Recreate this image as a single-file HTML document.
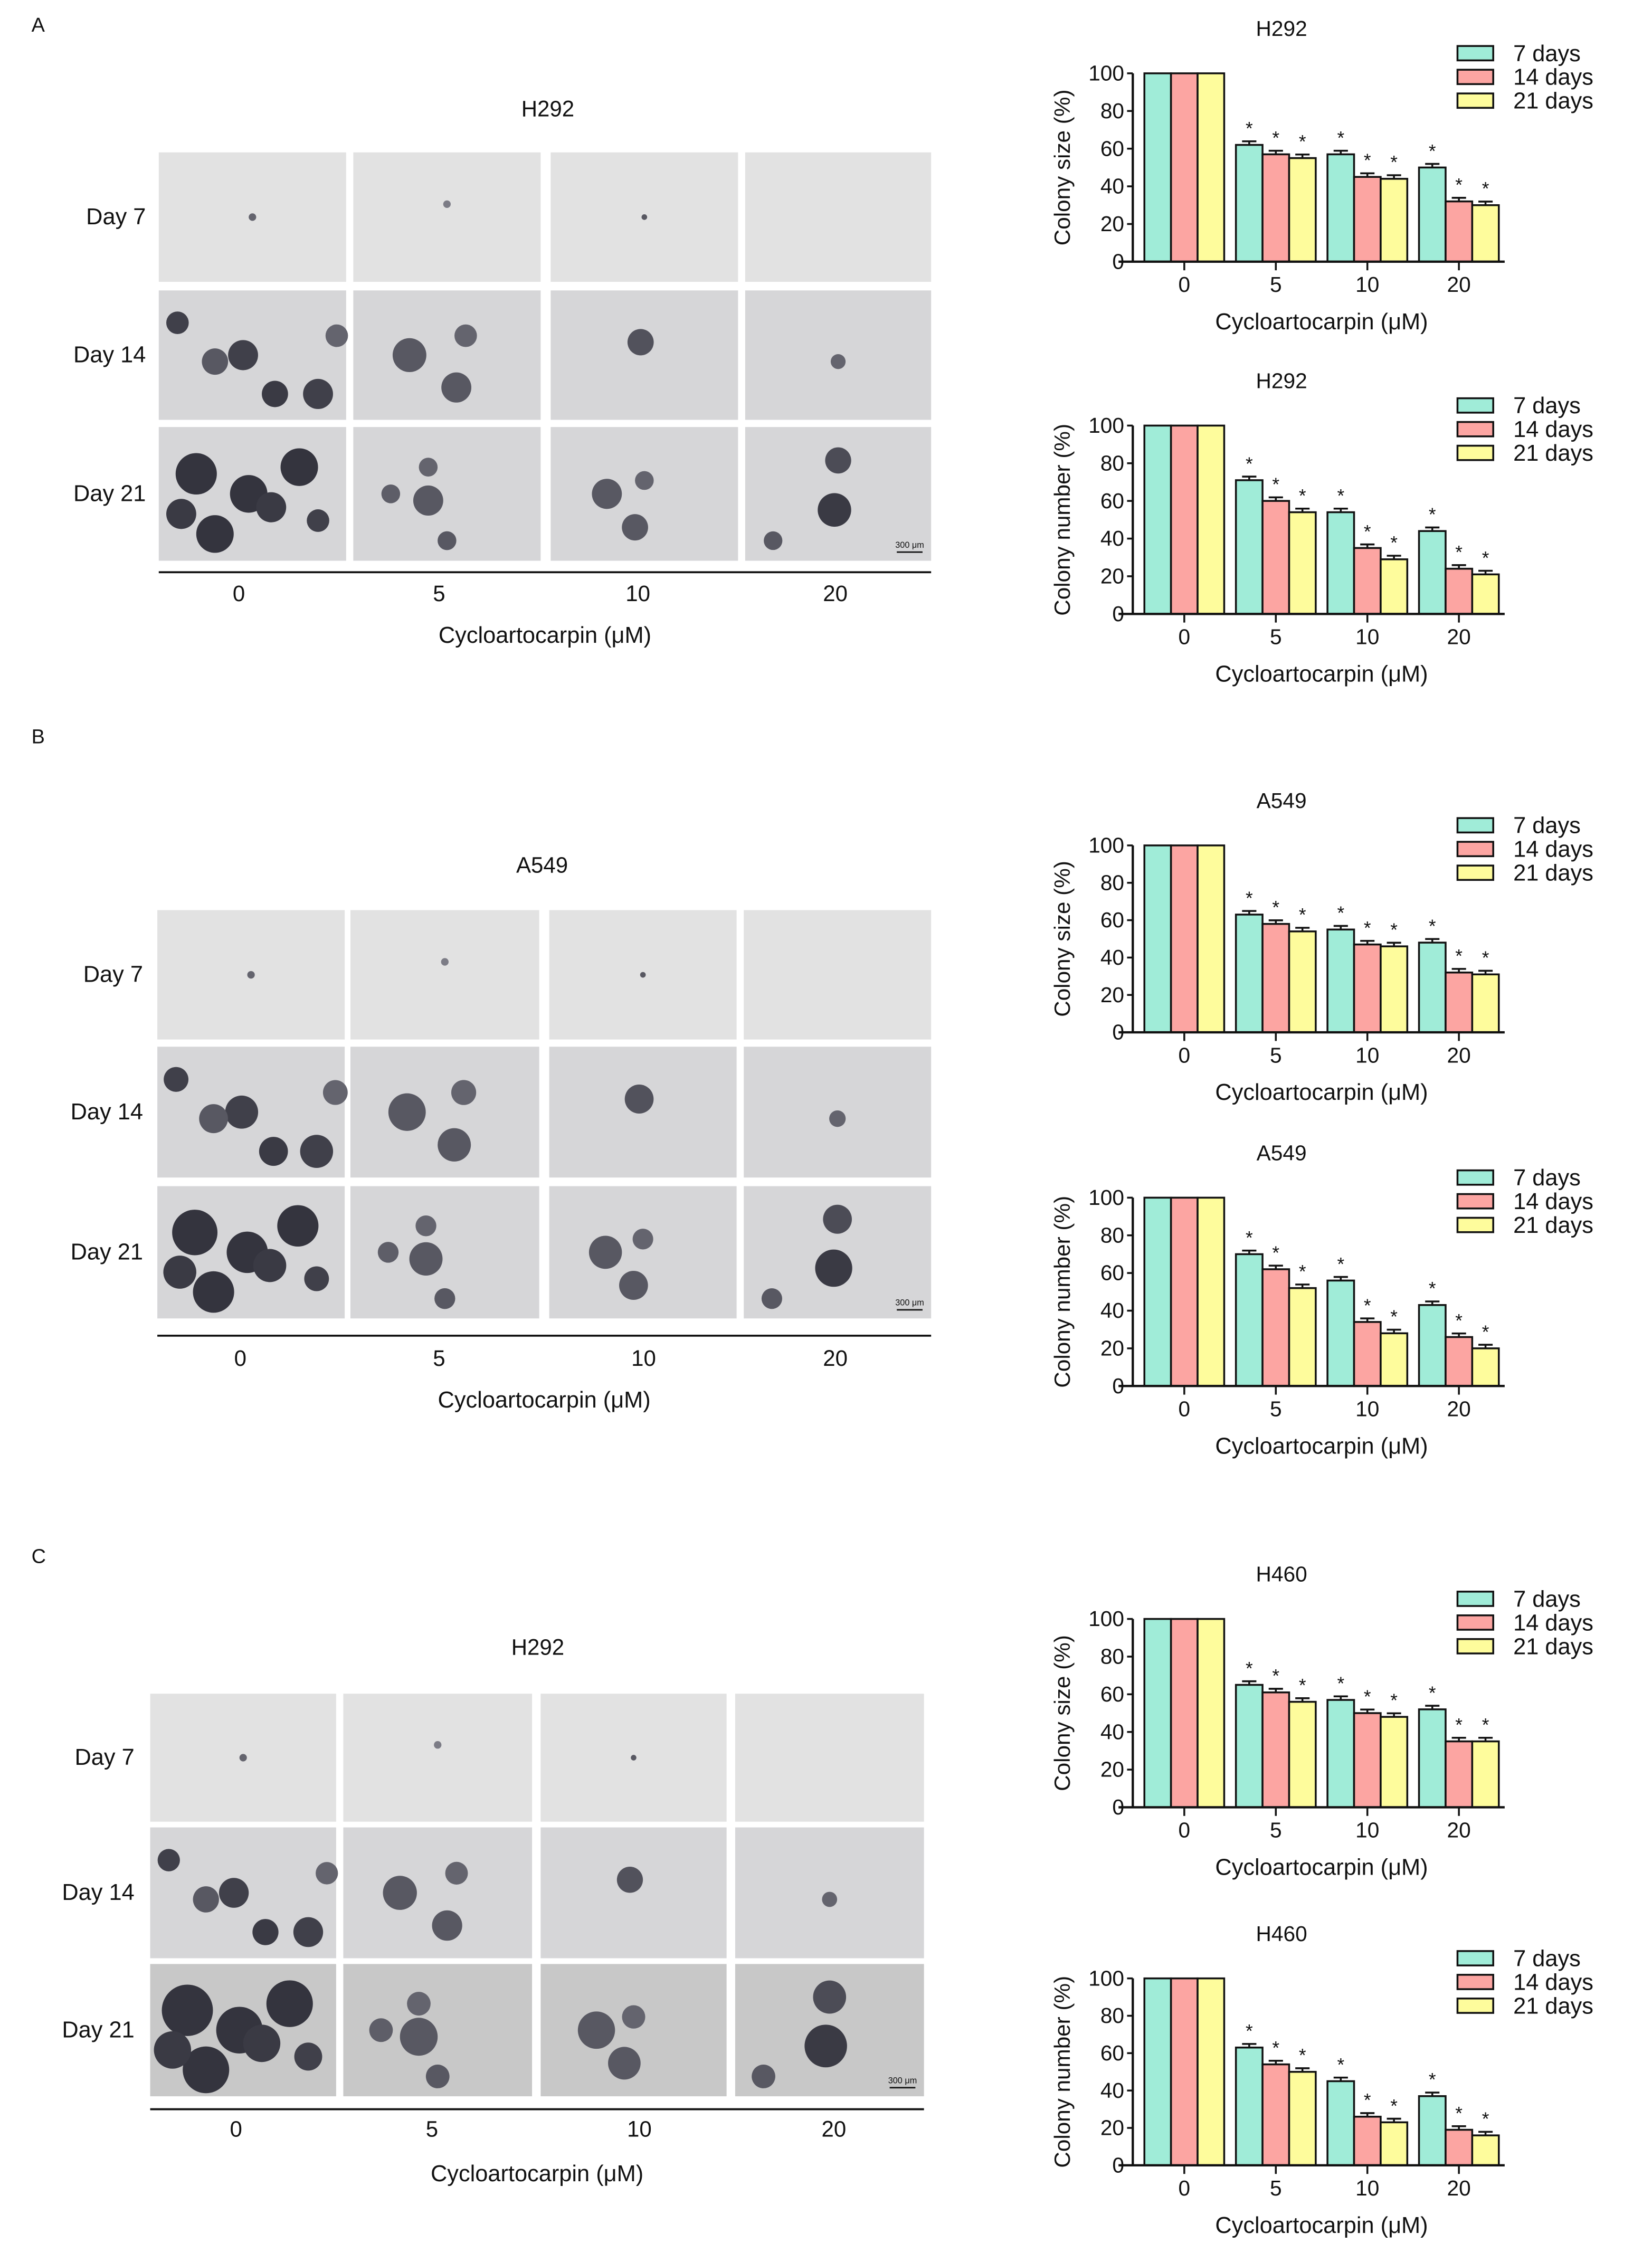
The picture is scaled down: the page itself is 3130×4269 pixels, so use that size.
<!DOCTYPE html>
<html><head><meta charset="utf-8"><style>
html,body{margin:0;padding:0;background:#fff}
svg{display:block}
text{font-family:"Liberation Sans",sans-serif;fill:#111}
</style></head><body>
<svg id="fig" xmlns="http://www.w3.org/2000/svg" width="3130" height="4269" viewBox="0 0 1155 1567" preserveAspectRatio="none">
<rect width="1155" height="1567" fill="#fff"/>
<text x="22" y="22" font-size="14">A</text>
<text x="22" y="517" font-size="14">B</text>
<text x="22" y="1087" font-size="14">C</text>
<g id="photos"></g>
<g id="charts"></g>
</svg>
<script>
const NS='http://www.w3.org/2000/svg';
function mk(tag,attrs,parent,txt){const e=document.createElementNS(NS,tag);for(const k in attrs)e.setAttribute(k,attrs[k]);if(txt!==undefined)e.textContent=txt;parent.appendChild(e);return e;}

// ---------- chart data ----------
const categories=['0','5','10','20'];
const seriesNames=['7 days','14 days','21 days'];
const yTicks=[0,20,40,60,80,100];
const titles=['H292','H292','A549','A549','H460','H460'];
const yTitles=['Colony size (%)','Colony number (%)','Colony size (%)','Colony number (%)','Colony size (%)','Colony number (%)'];
const s7=[[100,62,57,50],[100,71,54,44],[100,63,55,48],[100,70,56,43],[100,65,57,52],[100,63,45,37]];
const s14=[[100,57,45,32],[100,60,35,24],[100,58,47,32],[100,62,34,26],[100,61,50,35],[100,54,26,19]];
const s21=[[100,55,44,30],[100,54,29,21],[100,54,46,31],[100,52,28,20],[100,56,48,35],[100,50,23,16]];
const colors=['#a0ecd8','#fca5a2','#fefc9c'];
const chartTops=[51,296,588,833,1126,1376];
const chartBottoms=[182,427,718,964,1257,1506];

const charts=document.getElementById('charts');
const xAxisL=792,xAxisR=1052,groupStart=828,groupStep=64,barW=18.6;
function xPos(ci){return groupStart+ci*groupStep;}
for(let c=0;c<6;c++){
  const top=chartTops[c],bot=chartBottoms[c];
  const y=v=>bot-(v/100)*(bot-top);
  const g=mk('g',{},charts);
  
  
  const t=mk('text',{x:896,y:top-26,'font-size':15,'text-anchor':'middle'},g,titles[c]);
  
  
  const series=[s7[c],s14[c],s21[c]];
  for(let s=0;s<3;s++){
    for(let i=0;i<4;i++){
      const v=series[s][i];
      const bx=xPos(i)+(s-1)*barW-barW/2;
      const r=mk('rect',{x:bx,y:y(v),width:barW,height:bot-y(v),fill:colors[s],stroke:'#111','stroke-width':1.3},g);
      
      
      if(i>0){
        mk('line',{x1:bx+barW/2,x2:bx+barW/2,y1:y(v),y2:y(v)-2.5,stroke:'#111','stroke-width':1.3},g);
        mk('line',{x1:bx+barW/2-5,x2:bx+barW/2+5,y1:y(v)-2.5,y2:y(v)-2.5,stroke:'#111','stroke-width':1.3},g);
        const st=mk('text',{x:bx+barW/2,y:y(v)-7,'font-size':13,'text-anchor':'middle'},g,'*');
        
        
      }
    }
  }
  mk('line',{x1:xAxisL,x2:xAxisL,y1:top,y2:bot,stroke:'#111','stroke-width':1.6},g);
  mk('line',{x1:xAxisL-10,x2:xAxisR,y1:bot,y2:bot,stroke:'#111','stroke-width':1.6},g);
  yTicks.forEach(v=>{
    mk('line',{x1:xAxisL-4,x2:xAxisL,y1:y(v),y2:y(v),stroke:'#111','stroke-width':1.3},g);
    const tl=mk('text',{x:xAxisL-6,y:y(v)+5,'font-size':15,'text-anchor':'end'},g,String(v));
    
    
  });
  categories.forEach((cat,i)=>{
    mk('line',{x1:xPos(i),x2:xPos(i),y1:bot,y2:bot+6,stroke:'#111','stroke-width':1.3},g);
    const tl=mk('text',{x:xPos(i),y:bot+21,'font-size':15,'text-anchor':'middle'},g,cat);
    
    
  });
  const xt=mk('text',{x:924,y:bot+47,'font-size':16,'text-anchor':'middle'},g,'Cycloartocarpin (μM)');
  
  
  const ym=(top+bot)/2;
  const yt=mk('text',{x:0,y:0,'font-size':15.5,'text-anchor':'middle',transform:'translate(748,'+ym+') rotate(-90)'},g,yTitles[c]);
  
  
  for(let s=0;s<3;s++){
    const ly=top-14+s*16.5;
    const lr=mk('rect',{x:1019,y:ly-5,width:25,height:10,fill:colors[s],stroke:'#111','stroke-width':1.3},g);
    
    
    const lt=mk('text',{x:1058,y:ly+5.5,'font-size':16},g,seriesNames[s]);
    
    
  }
}

// ---------- micrograph panels ----------
const panels=[
 {title:'H292',tx:383,ty:81,rows:[[106,196],[202,292],[297,390]],cols:[[111,242],[247,378],[385,516],[521,651]],labX:[167,307,446,584],lineY:398,labY:418,xlY:447,rowLabX:102},
 {title:'A549',tx:379,ty:607,rows:[[633,723],[728,819],[825,917]],cols:[[110,241],[245,377],[384,515],[520,651]],labX:[168,307,450,584],lineY:929,labY:950,xlY:979,rowLabX:100},
 {title:'H292',tx:376,ty:1151,rows:[[1178,1267],[1271,1362],[1366,1458]],cols:[[105,235],[240,372],[378,508],[514,646]],labX:[165,302,447,583],lineY:1467,labY:1486,xlY:1517,rowLabX:94}
];
const blobs=[ // [row][col] list of [fx,fy,fr,darkness]
 [[[0.5,0.5,0.02,0.5]],[[0.5,0.4,0.02,0.3]],[[0.5,0.5,0.015,0.6]],[]],
 [[[0.1,0.25,0.06,0.8],[0.45,0.5,0.08,0.8],[0.3,0.55,0.07,0.6],[0.62,0.8,0.07,0.85],[0.85,0.8,0.08,0.8],[0.95,0.35,0.06,0.5]],
  [[0.3,0.5,0.09,0.6],[0.55,0.75,0.08,0.6],[0.6,0.35,0.06,0.5]],[[0.48,0.4,0.07,0.65]],[[0.5,0.55,0.04,0.5]]],
 [[[0.2,0.35,0.11,0.9],[0.48,0.5,0.1,0.9],[0.6,0.6,0.08,0.85],[0.3,0.8,0.1,0.9],[0.75,0.3,0.1,0.9],[0.85,0.7,0.06,0.8],[0.12,0.65,0.08,0.85]],
  [[0.4,0.55,0.08,0.6],[0.2,0.5,0.05,0.55],[0.5,0.85,0.05,0.6],[0.4,0.3,0.05,0.5]],
  [[0.3,0.5,0.08,0.6],[0.45,0.75,0.07,0.6],[0.5,0.4,0.05,0.5]],[[0.5,0.25,0.07,0.7],[0.48,0.62,0.09,0.85],[0.15,0.85,0.05,0.6]]]
];
const photos=document.getElementById('photos');
const rowNames=['Day 7','Day 14','Day 21'];
const concs=['0','5','10','20'];
panels.forEach((p,pi)=>{
  const g=mk('g',{},photos);
  
  
  const t=mk('text',{x:p.tx,y:p.ty,'font-size':15.5,'text-anchor':'middle'},g,p.title);
  
  
  p.rows.forEach((r,ri)=>{
    const rl=mk('text',{x:p.rowLabX,y:(r[0]+r[1])/2+5,'font-size':16,'text-anchor':'end'},g,rowNames[ri]);
    
    
    p.cols.forEach((c,ci)=>{
      const w=c[1]-c[0],h=r[1]-r[0];
      const bg=(ri===2&&pi===2)?'#c8c8c8':(ri===0?'#e2e2e2':'#d6d6d8');
      const im=mk('rect',{x:c[0],y:r[0],width:w,height:h,fill:bg},g);
      
      
      const scale=(pi===2&&ri===2)?1.25:(pi===1&&ri>0?1.1:1);
      blobs[ri][ci].forEach(b=>{
        const d=Math.round(40+(1-b[3])*120);
        mk('circle',{cx:c[0]+b[0]*w,cy:r[0]+b[1]*h,r:b[2]*w*scale,fill:'rgb('+d+','+d+','+(d+10)+')'},g);
      });
      if(ri===2&&ci===3){
        mk('line',{x1:c[1]-24,x2:c[1]-6,y1:r[1]-6,y2:r[1]-6,stroke:'#111','stroke-width':1},g);
        mk('text',{x:c[1]-15,y:r[1]-9,'font-size':6,'text-anchor':'middle'},g,'300 μm');
      }
    });
  });
  const L=p.cols[0][0],R=p.cols[3][1];
  mk('line',{x1:L,x2:R,y1:p.lineY,y2:p.lineY,stroke:'#111','stroke-width':1.4},g);
  p.labX.forEach((lx,ci)=>{
    const tl=mk('text',{x:lx,y:p.labY,'font-size':15.5,'text-anchor':'middle'},g,concs[ci]);
    
    
  });
  const xl=mk('text',{x:(L+R)/2,y:p.xlY,'font-size':16,'text-anchor':'middle'},g,'Cycloartocarpin (μM)');
  
  
});
</script>
</body></html>
